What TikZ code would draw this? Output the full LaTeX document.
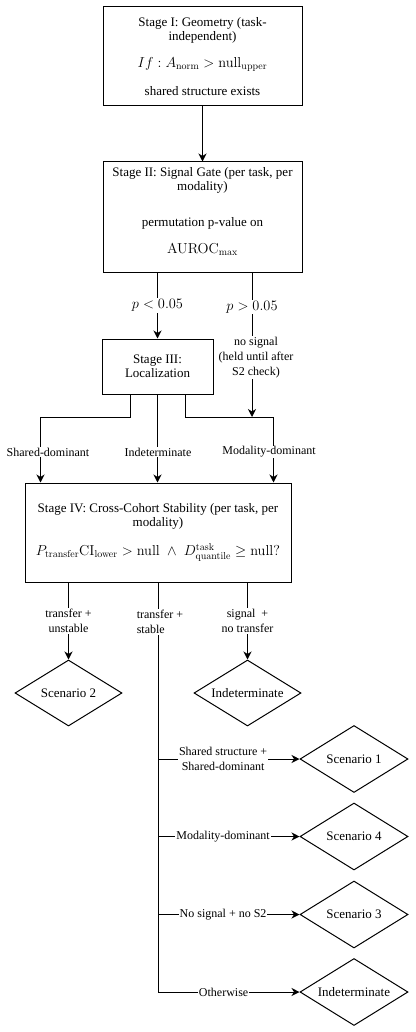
\documentclass[tikz,border=0pt]{standalone}
\usepackage{amsmath,amssymb}
\usepackage[no-math]{fontspec}
\setmainfont{Liberation Serif}
\usetikzlibrary{arrows.meta,positioning,shapes.geometric}
\newcommand{\bigmath}[1]{{\fontsize{14.5}{16}\selectfont$#1$}}
\tikzset{
  stagebox/.style={rectangle, draw=black, line width=1pt, fill=white,
                   inner sep=0pt, align=center, font=\fontsize{13}{14.5}\selectfont},
  stagetext/.style={inner sep=0pt, align=center, font=\fontsize{13}{14.5}\selectfont},
  outcome/.style={diamond, aspect=1.6, draw=black, line width=1pt, fill=white,
                  inner sep=0pt, minimum width=107pt, minimum height=66pt,
                  font=\fontsize{13}{15}\selectfont},
  flow/.style={line width=1pt, black},
  flowarrow/.style={flow, -{Stealth[length=8pt, width=8pt, inset=2.5pt]}},
}

\begin{document}
\begin{tikzpicture}[x=1pt, y=-1pt, >=Stealth,
   elabel/.style={fill=white, inner sep=1pt, align=center, font=\fontsize{12}{15}\selectfont},
   plabel/.style={elabel, font=\fontsize{13.5}{15}\selectfont}]
  \useasboundingbox (0,0) rectangle (415,1032);
  \node[stagebox, minimum width=199pt, minimum height=99pt] (s1) at (202.5,56.5)
    {Stage I: Geometry (task-\\independent)\\[12pt]\bigmath{If: A_{\mathrm{norm}} > \mathrm{null}_{\mathrm{upper}}}\\[14pt]shared structure exists};
  \node[stagebox, minimum width=199pt, minimum height=110pt] (s2) at (202.5,217) {};
  \node[stagetext] (s2txt) at (202.5,211.5)
    {Stage II: Signal Gate (per task, per\\modality)\\[21.5pt]permutation p-value on\\[12.5pt]\bigmath{\mathrm{AUROC}_{\max}}};
  \node[stagebox, minimum width=111pt, minimum height=55pt] (s3) at (157.5,366.5) {Stage III:\\Localization};
  \node[stagebox, minimum width=266pt, minimum height=99pt] (s4) at (158,532.5)
    {Stage IV: Cross-Cohort Stability (per task, per\\modality)\\[13pt]\bigmath{P_{\mathrm{transfer}}\mathrm{CI}_{\mathrm{lower}} > \mathrm{null}\;\wedge\; D^{\mathrm{task}}_{\mathrm{quantile}} \geq \mathrm{null?}}};
  \node[outcome] (sc2)  at (68.5,693)  {Scenario 2};
  \node[outcome] (ind1) at (247.5,693) {Indeterminate};
  \node[outcome, minimum width=108pt, minimum height=67pt] (sc1)  at (354,759)   {Scenario 1};
  \node[outcome, minimum width=108pt, minimum height=67pt] (sc4)  at (354,836.5) {Scenario 4};
  \node[outcome, minimum width=108pt, minimum height=67pt] (sc3)  at (354,914.5) {Scenario 3};
  \node[outcome, minimum width=108pt, minimum height=67pt] (ind2) at (354,992)   {Indeterminate};
  \coordinate (j1) at (252,417);

  \draw[flowarrow] (s1) -- (s2);
  \draw[flowarrow] (s2.south -| s3.north) -- node[plabel]{$p<0.05$} (s3.north);
  \draw[flowarrow] (s2.south -| j1) -- node[plabel, pos=0.24]{$p>0.05$}
    node[elabel, pos=0.59, xshift=4pt]{no signal\\(held until after\\S2 check)} (j1);
  \draw[flowarrow] ([xshift=-27.5pt]s3.south) -- ++(0,23) -| ([xshift=16pt]s4.north west);
  \draw[flowarrow] (s3.south) -- (s3.south |- s4.north);
  \draw[flowarrow] ([xshift=27.5pt]s3.south) -- ++(0,23) -| ([xshift=-18pt]s4.north east);
  \node[elabel] (lsd)  at (48,452)  {Shared-dominant};
  \node[elabel] (lind) at (158,452) {Indeterminate};
  \node[elabel] (lmd)  at (269,452) {Modality-dominant};

  \draw[flowarrow] (s4.south -| sc2) -- node[elabel]{transfer +\\unstable} (sc2);
  \draw[flowarrow] (s4.south -| ind1) -- node[elabel]{signal\ \ +\\no transfer} (ind1);
  \draw[flowarrow] (s4.south) |- node[elabel, pos=0.732]{Otherwise} (ind2.west);
  \node[elabel, align=left] (lstab) at (160,622) {transfer +\\stable};
  \draw[flowarrow] (s4.south |- sc1) -- node[elabel, pos=0.46]{Shared structure +\\Shared-dominant} (sc1.west);
  \draw[flowarrow] (s4.south |- sc4) -- node[elabel, pos=0.46]{Modality-dominant} (sc4.west);
  \draw[flowarrow] (s4.south |- sc3) -- node[elabel, pos=0.46]{No signal + no S2} (sc3.west);
\end{tikzpicture}
\end{document}
